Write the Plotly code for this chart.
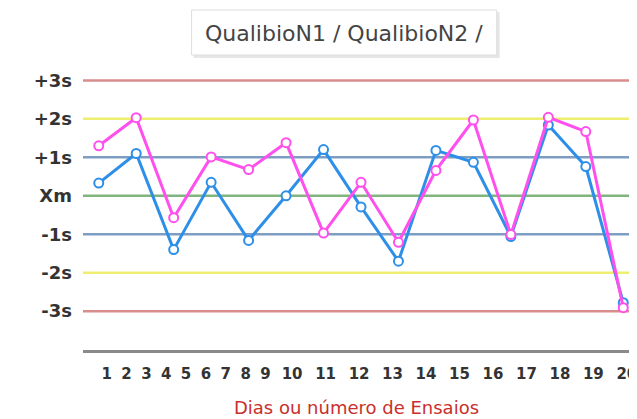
import plotly.graph_objects as go

# ---------------- data ----------------
ensaios = list(range(1, 16))
qualibio_n1 = [0.33, 1.10, -1.40, 0.35, -1.16, 0.00, 1.20, -0.29, -1.70, 1.18, 0.87, -1.06, 1.84, 0.76, -2.78]
qualibio_n2 = [1.30, 2.03, -0.57, 1.01, 0.68, 1.38, -0.97, 0.35, -1.21, 0.66, 1.97, -1.01, 2.04, 1.67, -2.91]
x_tick_labels = [str(i) for i in range(1, 21)]
levels = [3, 2, 1, 0, -1, -2, -3]
level_labels = ["+3s", "+2s", "+1s", "Xm", "-1s", "-2s", "-3s"]
level_colors = ["#d98c8c", "#eeee70", "#7d9dc2", "#80b580", "#7d9dc2", "#eeee70", "#d98c8c"]

# ---------------- layout constants ----------------
# the html page body has an 8px margin, so the figure starts at (8, 8) in the window
OFF = 8
W, H = 637 - OFF, 419 - OFF
ML, MR, MT, MB = 83 - OFF, 0, 65 - OFF, 69
PW, PH = W - ML - MR, H - MT - MB
FONT = "DejaVu Sans"


def px_x(p):
    return (p - OFF - ML) / PW


def px_y(p):
    return (H - MB - (p - OFF)) / PH


# tick label positions laid out like flowing text (wider for 2-digit labels)
tick_pos = []
c = 24.0
for i, lab in enumerate(x_tick_labels):
    if i > 0:
        c += (len(x_tick_labels[i - 1]) + len(lab)) / 2 * 13.8 + 6.3
    tick_pos.append(c)

fig = go.Figure()

# invisible trace on the label axis so it renders
fig.add_trace(go.Scatter(x=[0, PW], y=[None, None], xaxis="x", yaxis="y",
                         showlegend=False, hoverinfo="skip", mode="lines"))

fig.add_trace(go.Scatter(
    x=ensaios, y=qualibio_n1, xaxis="x2", yaxis="y", name="QualibioN1",
    mode="lines+markers",
    line=dict(color="#2e8fe8", width=3),
    marker=dict(size=9, color="white", line=dict(color="#2e8fe8", width=2)),
    showlegend=False,
))
fig.add_trace(go.Scatter(
    x=ensaios, y=qualibio_n2, xaxis="x2", yaxis="y", name="QualibioN2",
    mode="lines+markers",
    line=dict(color="#ff4fec", width=3),
    marker=dict(size=9, color="white", line=dict(color="#ff4fec", width=2)),
    showlegend=False,
))

shapes = []
for lv, col in zip(levels, level_colors):
    shapes.append(dict(type="line", xref="paper", yref="y", x0=0, x1=1, y0=lv, y1=lv,
                       line=dict(color=col, width=2.5), layer="below"))

# title box with soft shadow
shapes.append(dict(type="rect", xref="paper", yref="paper",
                   x0=px_x(195), x1=px_x(505), y0=px_y(58), y1=px_y(12),
                   line=dict(width=0), fillcolor="#e6e6e6", layer="below"))
shapes.append(dict(type="rect", xref="paper", yref="paper",
                   x0=px_x(193), x1=px_x(502), y0=px_y(55), y1=px_y(10),
                   line=dict(width=1, color="#dddddd"), fillcolor="white", layer="below"))

fig.update_layout(
    width=W, height=H,
    margin=dict(l=ML, r=MR, t=MT, b=MB, pad=0),
    paper_bgcolor="white", plot_bgcolor="white",
    font=dict(family=FONT, color="#333333"),
    shapes=shapes,
    annotations=[dict(
        text="QualibioN1 / QualibioN2 /", xref="paper", yref="paper",
        x=px_x(347.5), y=px_y(33), xanchor="center", yanchor="middle",
        showarrow=False, font=dict(family=FONT, size=22, color="#444444"),
    )],
    xaxis=dict(
        range=[0, PW], tickmode="array", tickvals=tick_pos, ticktext=x_tick_labels,
        showgrid=False, zeroline=False, showline=True, linewidth=3, linecolor="#8a8a8a",
        ticks="outside", ticklen=8, tickcolor="rgba(0,0,0,0)",
        ticklabeloverflow="allow",
        tickfont=dict(family=FONT, size=15, color="#333333", weight="bold"),
        title=dict(text="Dias ou número de Ensaios", standoff=20,
                   font=dict(family=FONT, size=18, color="#c9302c")),
        fixedrange=True,
    ),
    xaxis2=dict(
        range=[0.58, 15.18], overlaying="x", visible=False, fixedrange=True,
    ),
    yaxis=dict(
        range=[-4.01, 3.4], tickmode="array", tickvals=levels, ticktext=level_labels,
        showgrid=False, zeroline=False, showline=False,
        ticks="", ticklabelstandoff=10,
        tickfont=dict(family=FONT, size=18, color="#333333", weight="bold"),
        fixedrange=True,
    ),
)

fig.write_html("out.html")
